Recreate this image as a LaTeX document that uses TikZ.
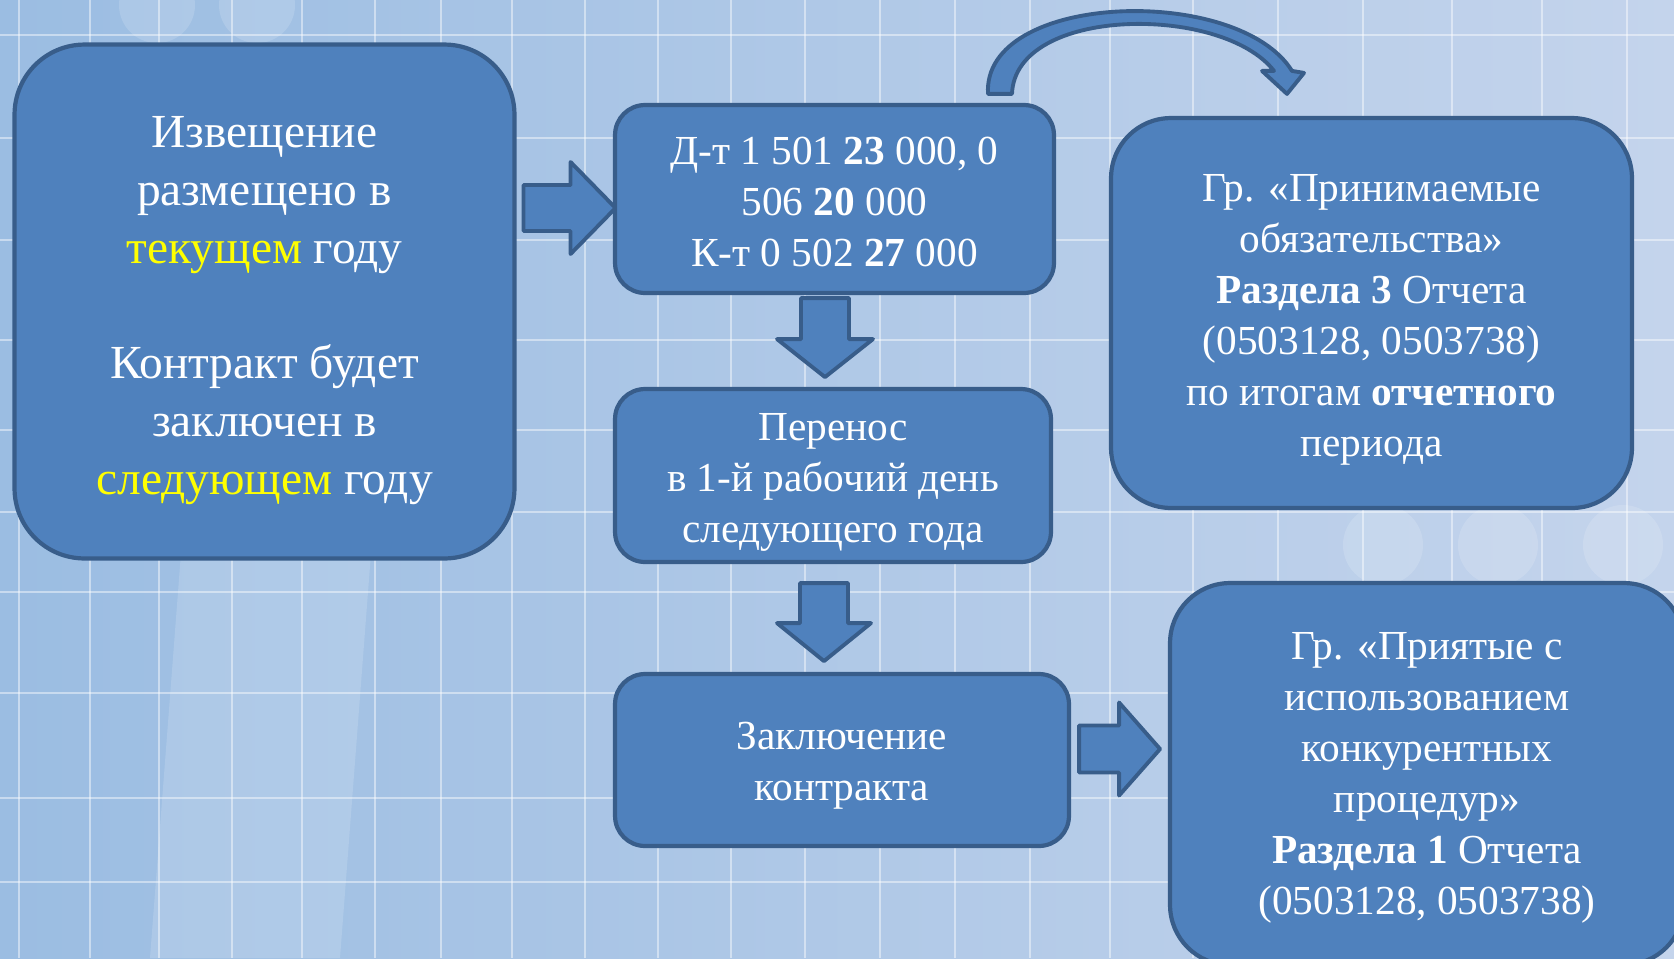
\documentclass[tikz,border=0pt]{standalone}
\usepackage{fontspec}
\setmainfont{Liberation Serif}
\usetikzlibrary{calc}
\definecolor{boxfill}{RGB}{79,129,189}
\definecolor{boxline}{RGB}{56,93,138}
\definecolor{bgleft}{RGB}{155,189,226}
\definecolor{bgright}{RGB}{196,212,236}
\definecolor{hilite}{RGB}{255,255,0}
% invisible strut that pushes the text block down a little
\newcommand{\topgap}[1]{\rule{0pt}{#1}}
% straight block arrow: #1 tail, #2 angle, #3 length, #4 head length, #5 shaft half, #6 head half
\newcommand{\blockarrow}[6]{%
  \begin{scope}[shift={(#1)}, rotate=#2]
    \draw[arrowline] (0,-#5) -- (#3-#4,-#5) -- (#3-#4,-#6) -- (#3,0)
      -- (#3-#4,#6) -- (#3-#4,#5) -- (0,#5) -- cycle;
  \end{scope}}

\begin{document}
\begin{tikzpicture}[x=0.02cm, y=-0.02cm,
  box/.style={draw=boxline, line width=2.4pt, fill=boxfill, text=white, align=center, inner sep=0pt},
  bigfont/.style={font=\fontsize{27}{33}\selectfont},
  midfont/.style={font=\fontsize{23.5}{29}\selectfont},
  arrowline/.style={draw=boxline, line width=2.2pt, fill=boxfill, line join=round},
  gridline/.style={white, opacity=0.45, line width=1.5pt},
  blob/.style={white, opacity=0.15},
]
\useasboundingbox (0,0) rectangle (1674,958);
\clip (0,0) rectangle (1674,958);

% ===== Background =====
\shade[left color=bgleft, right color=bgright] (0,0) rectangle (1674,958);
\fill[blob] (150,958) -- (340,958) -- (372,540) -- (182,540) -- cycle;
\foreach \bx in {157,257}{\fill[blob] (\bx,5) circle (38);}
\foreach \bx in {1383,1498,1623}{\fill[blob] (\bx,545) circle (40);}
\foreach \gx in {19,90,159,232,302,375,441,512,585,658,731,805,880,955,1030,1110,1193,1278,1363,1452,1542,1627}
  {\draw[gridline] (\gx,0) -- (\gx,958);}
\foreach \gy in {35,138,240,340,430,512,592,693,798,882}
  {\draw[gridline] (0,\gy) -- (1674,\gy);}

% ===== Boxes =====
\node[box, bigfont, minimum width=10.0cm, minimum height=10.28cm, rounded corners=1.4cm]
  (notice) at (264.5,301.5)
  {\topgap{28pt}Извещение\\размещено в\\\textcolor{hilite}{текущем} году\\[33pt]Контракт будет\\заключен в\\\textcolor{hilite}{следующем} году};
\node[box, midfont, minimum width=8.78cm, minimum height=3.76cm, rounded corners=0.6cm]
  (entry) at (834.5,199)
  {\topgap{19pt}Д-т 1 501 \textbf{23} 000, 0\\506 \textbf{20} 000\\К-т 0 502 \textbf{27} 000};
\node[box, midfont, minimum width=8.72cm, minimum height=3.46cm, rounded corners=0.6cm]
  (transfer) at (833,475.5)
  {\topgap{23pt}Перенос\\в 1-й рабочий день\\следующего года};
\node[box, midfont, minimum width=9.08cm, minimum height=3.44cm, rounded corners=0.6cm]
  (contract) at (842,760)
  {\topgap{22pt}Заключение\\контракта};
\node[box, midfont, minimum width=10.42cm, minimum height=7.8cm, rounded corners=1.2cm]
  (assumed) at (1371.5,313)
  {\topgap{23pt}Гр. «Принимаемые\\обязательства»\\\textbf{Раздела 3} Отчета\\(0503128, 0503738)\\по итогам \textbf{отчетного}\\периода};
\node[box, midfont, minimum width=10.28cm, minimum height=7.64cm, rounded corners=1.2cm]
  (accepted) at (1427,774)
  {\topgap{20pt}Гр. «Приятые с\\использованием\\конкурентных\\процедур»\\\textbf{Раздела 1} Отчета\\(0503128, 0503738)};

% ===== Block arrows =====
\coordinate (a1) at ($(notice.east |- entry.west)+(7,9)$);
\coordinate (a2) at ($(entry.south)+(-9.5,3)$);
\coordinate (a3) at ($(transfer.south)+(-9,19)$);
\coordinate (a4) at ($(contract.east)+(8,-11)$);
\blockarrow{a1}{0}{92}{45}{23}{46}
\blockarrow{a2}{-90}{79}{38}{24}{48}
\blockarrow{a3}{-90}{78}{38}{24}{47}
\blockarrow{a4}{0}{81}{41}{23.5}{46.5}

% ===== Curved arrow over the top =====
\coordinate (c1) at ($(entry.north)+(165.5,-9)$);
\begin{scope}[shift={(c1)}]
  \draw[arrowline] (-12,0) .. controls (-18,-102) and (238,-110) .. (292,-23)
    -- (304,-21) -- (287,0) -- (262,-23) -- (274,-23)
    .. controls (222,-90) and (15,-88) .. (12,0) -- cycle;
\end{scope}
\end{tikzpicture}
\end{document}
